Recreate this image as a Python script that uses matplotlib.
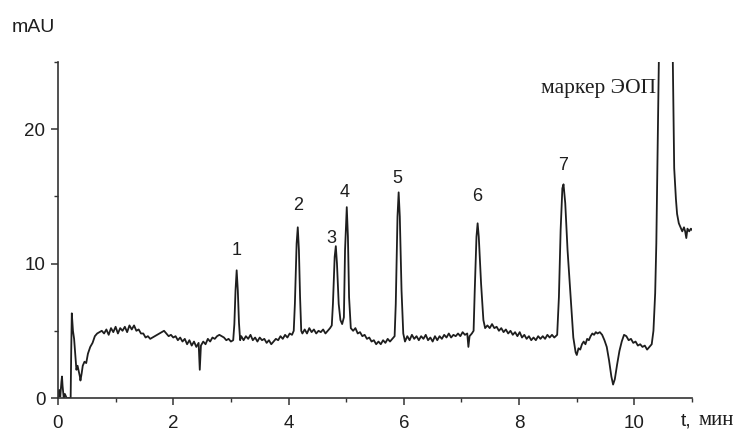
import matplotlib
matplotlib.use('Agg')
import matplotlib.pyplot as plt
from matplotlib.ticker import MultipleLocator

# electropherogram trace (t in min, signal in mAU)
t_min = [
    0.00, 0.02, 0.04, 0.06, 0.07, 0.08, 0.10, 0.12, 0.15, 0.20, 0.22, 0.23, 0.24, 0.26, 0.28, 0.30,
    0.32, 0.34, 0.36, 0.38, 0.39, 0.41, 0.43, 0.46, 0.49, 0.52, 0.56, 0.60, 0.64, 0.68, 0.72, 0.76,
    0.80, 0.84, 0.88, 0.92, 0.96, 1.00, 1.04, 1.08, 1.12, 1.16, 1.20, 1.24, 1.28, 1.32, 1.36, 1.40,
    1.44, 1.48, 1.52, 1.56, 1.60, 1.64, 1.68, 1.72, 1.76, 1.80, 1.84, 1.88, 1.92, 1.96, 2.00, 2.04,
    2.08, 2.12, 2.16, 2.20, 2.24, 2.28, 2.32, 2.36, 2.40, 2.44, 2.46, 2.48, 2.52, 2.56, 2.60, 2.64,
    2.68, 2.72, 2.76, 2.80, 2.84, 2.88, 2.92, 2.96, 3.00, 3.04,
    3.06, 3.08, 3.10, 3.12, 3.14, 3.16, 3.18,
    3.22, 3.26, 3.30, 3.34, 3.38, 3.42, 3.46, 3.50, 3.54, 3.58, 3.62, 3.66, 3.70, 3.74, 3.78, 3.82,
    3.86, 3.90, 3.94, 3.98, 4.02, 4.06, 4.09,
    4.11, 4.14, 4.16, 4.18, 4.20, 4.22, 4.24,
    4.28, 4.32, 4.36, 4.40, 4.44, 4.48, 4.52, 4.56, 4.60, 4.64, 4.68, 4.72, 4.75,
    4.77, 4.80, 4.82, 4.84, 4.87, 4.90, 4.93, 4.96,
    4.98, 5.01, 5.03, 5.05, 5.08,
    5.12, 5.16, 5.20, 5.24, 5.28, 5.32, 5.36, 5.40, 5.44, 5.48, 5.52, 5.56, 5.60, 5.64, 5.68, 5.72,
    5.76, 5.80, 5.84,
    5.86, 5.89, 5.91, 5.93, 5.96, 5.99, 6.02,
    6.06, 6.10, 6.14, 6.18, 6.22, 6.26, 6.30, 6.34, 6.38, 6.42, 6.46, 6.50, 6.54, 6.58, 6.62, 6.66,
    6.70, 6.74, 6.78, 6.82, 6.86, 6.90, 6.94, 6.98, 7.02, 7.06, 7.10, 7.12, 7.14, 7.18, 7.21,
    7.23, 7.26, 7.28, 7.30, 7.34, 7.38, 7.41,
    7.45, 7.49, 7.53, 7.57, 7.61, 7.65, 7.69, 7.73, 7.77, 7.81, 7.85, 7.89, 7.93, 7.97, 8.01, 8.05,
    8.09, 8.13, 8.17, 8.21, 8.25, 8.29, 8.33, 8.37, 8.41, 8.45, 8.49, 8.53, 8.57, 8.61, 8.66,
    8.69, 8.72, 8.75, 8.77, 8.80, 8.84, 8.89, 8.94, 8.98, 9.00, 9.03,
    9.06, 9.09, 9.12, 9.15, 9.18, 9.21, 9.24, 9.27, 9.30, 9.33, 9.36, 9.40, 9.44, 9.48, 9.52, 9.56,
    9.60, 9.63, 9.66, 9.70, 9.74, 9.78, 9.82, 9.86, 9.90, 9.94, 9.98, 10.02, 10.06, 10.10, 10.14,
    10.18, 10.22, 10.26, 10.30, 10.33, 10.36, 10.38, 10.40, 10.43, 10.50,
    10.62, 10.67, 10.69, 10.72, 10.74, 10.77, 10.80, 10.83, 10.86, 10.88, 10.90, 10.92, 10.95,
    10.98, 11.00,
]
mau = [
    0.0, 0.6, 0.1, 1.2, 1.6, 0.9, 0.0, 0.3, 0.0, 0.0, 0.0, 3.5, 6.3, 5.0, 4.4, 3.2,
    2.1, 2.4, 2.0, 1.6, 1.3, 1.8, 2.4, 2.7, 2.6, 3.3, 3.8, 4.1, 4.6, 4.8, 4.9, 5.0,
    4.8, 5.1, 4.7, 5.2, 4.9, 5.3, 4.8, 5.2, 5.0, 5.3, 4.9, 5.4, 5.1, 5.4, 5.0, 5.1,
    4.8, 4.8, 4.5, 4.6, 4.4, 4.5, 4.6, 4.7, 4.8, 4.9, 5.0, 4.8, 4.6, 4.7, 4.5, 4.6,
    4.3, 4.5, 4.2, 4.4, 4.0, 4.3, 3.9, 4.2, 3.8, 4.1, 2.1, 3.9, 4.2, 4.0, 4.4, 4.2,
    4.5, 4.4, 4.6, 4.7, 4.6, 4.5, 4.3, 4.4, 4.2, 4.3,
    5.5, 8.0, 9.5, 8.0, 5.6, 4.3, 4.6,
    4.3, 4.6, 4.4, 4.7, 4.3, 4.5, 4.2, 4.5, 4.3, 4.4, 4.1, 4.3, 4.0, 4.2, 4.4, 4.3,
    4.6, 4.4, 4.7, 4.5, 4.8, 4.7, 5.0,
    7.0, 11.5, 12.7, 11.0, 7.5, 5.0, 4.8,
    5.1, 4.8, 5.2, 4.9, 5.1, 4.8, 5.0, 4.9, 5.1, 4.8, 5.0, 5.2, 5.4,
    7.0, 10.5, 11.3, 10.0, 7.0, 5.8, 5.5, 6.0,
    11.0, 14.2, 12.0, 7.5, 5.2,
    5.0, 5.2, 4.8, 4.9, 4.6, 4.7, 4.4, 4.5, 4.2, 4.3, 4.0, 4.2, 4.0, 4.3, 4.1, 4.4,
    4.2, 4.4, 4.6,
    7.0, 13.5, 15.3, 13.5, 8.0, 4.8, 4.2,
    4.6, 4.3, 4.7, 4.4, 4.6, 4.3, 4.6, 4.4, 4.7, 4.3, 4.5, 4.2, 4.6, 4.3, 4.6, 4.4,
    4.7, 4.5, 4.8, 4.5, 4.7, 4.6, 4.8, 4.6, 4.9, 4.7, 4.8, 3.8, 4.6, 4.8, 5.0,
    8.0, 12.0, 13.0, 12.0, 8.5, 5.8, 5.2,
    5.4, 5.2, 5.5, 5.2, 5.3, 5.0, 5.2, 4.9, 5.1, 4.8, 5.0, 4.7, 4.9, 4.6, 4.9, 4.5,
    4.7, 4.4, 4.6, 4.3, 4.5, 4.3, 4.6, 4.4, 4.6, 4.4, 4.7, 4.5, 4.7, 4.5, 4.7,
    7.5, 12.5, 15.6, 15.9, 14.5, 11.0, 7.8, 4.5, 3.4, 3.2, 3.7,
    3.6, 4.0, 4.2, 4.0, 4.4, 4.3, 4.6, 4.8, 4.7, 4.9, 4.8, 4.9, 4.7, 4.3, 3.8, 2.8,
    1.6, 1.0, 1.4, 2.5, 3.5, 4.2, 4.7, 4.6, 4.3, 4.4, 4.1, 4.2, 3.9, 4.0, 3.8,
    3.9, 3.6, 3.8, 4.0, 5.0, 7.8, 11.5, 17.6, 27.0, 40.0,
    40.0, 24.0, 17.1, 14.8, 13.7, 13.0, 12.7, 12.4, 12.7, 12.4, 11.9, 12.6, 12.4,
    12.6, 12.5,
]

# peak numbers and where their labels sit
peak_names = ['1', '2', '3', '4', '5', '6', '7']
peak_label_t = [3.10, 4.16, 4.75, 4.97, 5.88, 7.27, 8.76]
peak_label_y = [11.0, 14.3, 11.9, 15.3, 16.3, 15.0, 17.3]

SANS = 'Liberation Sans'
SERIF = 'Liberation Serif'
INK = '#1e1e1e'

fig = plt.figure(figsize=(7.46, 4.32), dpi=100)
ax = fig.add_axes([0.0777, 0.0787, 0.85, 0.7778])

ax.plot(t_min, mau, color=INK, lw=1.3)

ax.set_xlim(0, 11)
ax.set_ylim(0, 25)
ax.xaxis.set_major_locator(MultipleLocator(2))
ax.xaxis.set_minor_locator(MultipleLocator(1))
ax.yaxis.set_major_locator(MultipleLocator(10))
ax.yaxis.set_minor_locator(MultipleLocator(5))

for side in ('top', 'right'):
    ax.spines[side].set_visible(False)
for side in ('left', 'bottom'):
    ax.spines[side].set_linewidth(1.2)
    ax.spines[side].set_color('#333333')

ax.tick_params(which='major', direction='out', length=5, width=1.1, color='#333333',
               labelsize=13.5, labelcolor=INK)
ax.tick_params(which='minor', direction='out', length=3, width=1.0, color='#333333')
ax.tick_params(axis='x', pad=7)
ax.tick_params(axis='y', pad=4)
for lab in ax.get_xticklabels() + ax.get_yticklabels():
    lab.set_family(SANS)

for name, x, y in zip(peak_names, peak_label_t, peak_label_y):
    ax.text(x, y, name, ha='center', va='center', fontsize=13, family=SANS, color=INK)

ax.text(10.38, 23.0, 'маркер ЭОП', ha='right', va='center', fontsize=15.5, family=SERIF, color=INK)

fig.text(0.016, 0.937, 'mAU', ha='left', va='center', fontsize=14, family=SANS, color=INK)
fig.text(0.913, 0.016, 't,', ha='left', va='baseline', fontsize=14, family=SANS, color=INK)
fig.text(0.937, 0.016, 'мин', ha='left', va='baseline', fontsize=15, family=SERIF, color=INK)

fig.savefig('out.png', dpi=100)
